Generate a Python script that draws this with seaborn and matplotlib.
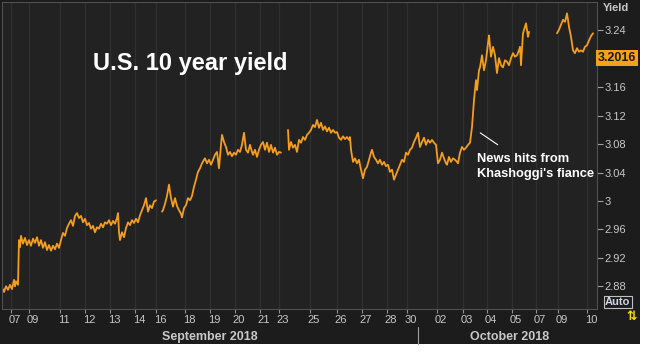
import numpy as np
import pandas as pd
import matplotlib
matplotlib.use("Agg")
import matplotlib.pyplot as plt
import matplotlib.transforms as mtransforms
from matplotlib.patches import Rectangle
import seaborn as sns

# US 10y yield, intraday, x = trading hours since Sep 7 open (weekends squeezed out)
# nan marks a break in the line
hours = [
    0, 2, 4, 6, 8, 10, 12, 13, 14, 16,
    17, 18, 19, 21, 23, 25, 27, 29, 31, 33,
    35, 37, 39, 41, 43, 45, 47, 49, 51, 53,
    55, 57, 59, 61, 63, 65, 67, 69, 71, 73,
    75, 77, 79, 81, 83, 85, 87, 89, 91, 93,
    95, 97, 99, 101, 103, 105, 107, 109, 111, 113,
    115, 116, 117, 118, 120, 122, 124, 126, 128, 130,
    132, 134, 136, 138, 140, 142, 144, 146, 148, 150,
    152, 154, 156,
    160, 161, 163, 165, 167, 169, 171, 173, 175, 177,
    179, 180, 182, 184, 186, 188, 190, 192, 194, 196,
    198, 200, 202, 203, 205, 207, 209, 211, 213, 215,
    217, 219, 220, 222, 224, 226, 228, 230, 232, 234,
    236, 238, 240, 242, 244, 246, 248, 250, 251, 253,
    255, 257, 259, 261, 263, 265, 267, 269, 271, 273,
    275, 277, 279, 282,
    286, 287, 289, 291, 293, 295, 297, 299, 301, 303,
    305, 307, 309, 311, 313, 315, 317, 319, 321, 323,
    325, 327, 329, 331, 333, 335, 337, 339, 341, 343,
    345, 347, 348, 349, 351, 353, 355, 357, 359, 361,
    363, 365, 367, 369, 370, 372, 374, 376, 378, 380,
    382, 384, 386, 388, 390, 392, 394, 396, 398, 400,
    402, 404, 406, 408, 410, 412, 414, 416, 418, 420,
    422, 424, 426, 428, 430, 432, 434, 436, 438, 440,
    442, 444, 445, 447, 449, 451, 453, 455, 456, 458,
    460, 462, 464, 466, 468, 470, 472, 474, 475, 477,
    478, 480, 482, 484, 486, 487, 489, 491, 493, 495,
    497, 499, 501, 503, 505, 507, 509, 511, 513, 515,
    517, 518, 519, 521, 524, 526, 527, 540,
    555, 557, 559, 561, 563, 565, 567, 569, 571, 573,
    575, 577, 579, 581, 583, 585, 587, 589, 591,
]
yields = [
    2.878, 2.872, 2.880, 2.875, 2.882, 2.876, 2.889, 2.880, 2.887, 2.882,
    2.945, 2.935, 2.951, 2.940, 2.948, 2.938, 2.945, 2.937, 2.947, 2.941,
    2.949, 2.937, 2.945, 2.934, 2.942, 2.931, 2.938, 2.930, 2.937, 2.932,
    2.940, 2.934, 2.945, 2.955, 2.951, 2.962, 2.968, 2.973, 2.965, 2.979,
    2.983, 2.976, 2.979, 2.970, 2.975, 2.966, 2.969, 2.961, 2.965, 2.956,
    2.963, 2.961, 2.968, 2.963, 2.970, 2.968, 2.973, 2.966, 2.972, 2.968,
    2.976, 2.983, 2.956, 2.945, 2.956, 2.949, 2.962, 2.970, 2.966, 2.973,
    2.969, 2.975, 2.970, 2.980, 2.987, 2.994, 3.004, 2.985, 2.994, 2.990,
    2.999, 3.001, np.nan,
    2.985, 2.987, 2.996, 3.007, 3.023, 3.004, 2.992, 3.004, 2.993, 2.987,
    2.982, 2.977, 2.990, 2.994, 3.004, 3.001, 3.007, 3.020, 3.030, 3.041,
    3.046, 3.053, 3.058, 3.060, 3.053, 3.058, 3.051, 3.058, 3.065, 3.069,
    3.046, 3.079, 3.093, 3.083, 3.076, 3.065, 3.069, 3.063, 3.068, 3.065,
    3.072, 3.069, 3.079, 3.096, 3.072, 3.068, 3.079, 3.069, 3.065, 3.072,
    3.062, 3.072, 3.079, 3.083, 3.072, 3.082, 3.069, 3.079, 3.068, 3.075,
    3.065, 3.069, 3.068, np.nan,
    3.100, 3.072, 3.083, 3.075, 3.079, 3.069, 3.086, 3.082, 3.090, 3.086,
    3.093, 3.096, 3.100, 3.107, 3.104, 3.114, 3.103, 3.110, 3.100, 3.105,
    3.098, 3.103, 3.096, 3.100, 3.096, 3.097, 3.089, 3.086, 3.091, 3.087,
    3.090, 3.086, 3.090, 3.072, 3.055, 3.060, 3.053, 3.058, 3.044, 3.032,
    3.044, 3.048, 3.058, 3.068, 3.072, 3.062, 3.058, 3.053, 3.058, 3.051,
    3.055, 3.049, 3.051, 3.041, 3.044, 3.030, 3.037, 3.044, 3.051, 3.058,
    3.055, 3.068, 3.065, 3.072, 3.075, 3.083, 3.089, 3.096, 3.076, 3.083,
    3.089, 3.079, 3.086, 3.082, 3.086, 3.082, 3.079, 3.053, 3.058, 3.068,
    3.060, 3.053, 3.051, 3.062, 3.055, 3.060, 3.058, 3.055, 3.053, 3.068,
    3.076, 3.072, 3.075, 3.079, 3.082, 3.104, 3.142, 3.170, 3.156, 3.184,
    3.188, 3.205, 3.184, 3.198, 3.222, 3.233, 3.203, 3.217, 3.205, 3.180,
    3.201, 3.191, 3.188, 3.198, 3.196, 3.191, 3.201, 3.208, 3.203, 3.205,
    3.212, 3.217, 3.191, 3.236, 3.250, 3.231, 3.238, np.nan,
    3.236, 3.241, 3.248, 3.255, 3.252, 3.264, 3.245, 3.231, 3.212, 3.208,
    3.215, 3.210, 3.212, 3.210, 3.217, 3.219, 3.226, 3.232, 3.236,
]

day_ticks = [9, 27, 58, 83, 108, 133, 154, 183, 208, 233, 258, 277,
             308, 335, 360, 385, 405, 435, 461, 485, 510, 534, 556, 585]
day_labels = ['07', '09', '11', '12', '13', '14', '16', '18', '19', '20', '21', '23',
              '25', '26', '27', '28', '30', '02', '03', '04', '05', '07', '09', '10']
month_labels = ['September 2018', 'October 2018']
month_edges = [0, 416, 600]

y_ticks = [2.88, 2.92, 2.96, 3.00, 3.04, 3.08, 3.12, 3.16, 3.24]
y_labels = ['2.88', '2.92', '2.96', '3', '3.04', '3.08', '3.12', '3.16', '3.24']
last_value = 3.2016

# where the news hit (line from the jump to the note)
news_point = (476, 3.098)
news_text_at = (498, 3.077)

df = pd.DataFrame({'hours': hours, 'yield': yields})
df['session'] = df['yield'].isna().cumsum()
df = df.dropna()

sns.set_theme(style="dark")
plt.rcParams['font.family'] = ['Liberation Sans', 'DejaVu Sans']

W, H = 650, 354
fig = plt.figure(figsize=(W / 100, H / 100), dpi=100, facecolor='white')
fig.add_artist(Rectangle((0, 1 - 344 / H), 640 / W, 344 / H, transform=fig.transFigure,
                         facecolor='#1c1c1c', edgecolor='none', zorder=0))
ax = fig.add_axes([2 / W, (H - 309) / H, 595 / W, 307 / H])
ax.set_facecolor('#222222')

sns.lineplot(data=df, x='hours', y='yield', units='session', estimator=None,
             color='#f59e1e', lw=1.3, ax=ax, legend=False)

ax.set_xlim(0, 595)
ax.set_ylim(2.848, 3.280)
ax.set_xlabel('')
ax.set_ylabel('')

# x axis: day ticks
ax.set_xticks(day_ticks)
ax.set_xticklabels(day_labels)
ax.tick_params(axis='x', bottom=True, length=3, width=0.8, color='#909090', pad=1.5,
               labelsize=8, labelcolor='#c8c8c8', direction='out')
shift = mtransforms.ScaledTranslation(4 / 100, 0, fig.dpi_scale_trans)
for lbl in ax.get_xticklabels():
    lbl.set_transform(lbl.get_transform() + shift)
ax.grid(axis='x', color='#303030', lw=1)
ax.grid(axis='y', visible=False)
ax.set_axisbelow(True)

# y axis on the right
ax.yaxis.tick_right()
ax.set_yticks(y_ticks)
ax.set_yticklabels(y_labels)
ax.tick_params(axis='y', right=True, left=False, length=4, width=0.8, color='#a0a0a0',
               pad=1.5, labelsize=8, labelcolor='#c8c8c8', direction='out')

for sp in ax.spines.values():
    sp.set_color('#505050')
    sp.set_linewidth(0.8)

# month row
xb = mtransforms.blended_transform_factory(ax.transData, ax.transAxes)
for i, name in enumerate(month_labels):
    mid = (month_edges[i] + month_edges[i + 1]) / 2
    ax.text(mid, -0.092, name, transform=xb, ha='center', va='center',
            fontsize=9, fontweight='bold', color='#c8c8c8', clip_on=False)
ax.plot([month_edges[1]] * 2, [-0.06, -0.115], transform=xb, color='#a0a0a0',
        lw=0.8, clip_on=False)

# title and note
ax.text(0.153, 0.801, 'U.S. 10 year yield', transform=ax.transAxes, color='white',
        fontsize=17, fontweight='bold', ha='left', va='center')
ax.annotate('', xy=news_point, xytext=news_text_at,
            arrowprops=dict(arrowstyle='-', color='white', lw=0.8))
ax.text(475, 3.0675, "News hits from\nKhashoggi's fiance", color='white',
        fontsize=9.3, fontweight='bold', ha='left', va='top', linespacing=1.3)

# right-side labels
yb = mtransforms.blended_transform_factory(ax.transAxes, ax.transData)
ax.text(1.0 + 1 / 595, last_value, f'{last_value:.4f}', transform=yb, ha='left', va='center',
        fontsize=9, fontweight='bold', color='#1a1a1a', clip_on=False,
        bbox=dict(boxstyle='square,pad=0.15', fc='#f7a11a', ec='none'))
fig.text(603 / W, 1 - 8 / H, 'Yield', fontsize=8, fontweight='bold', color='#c8c8c8',
         ha='left', va='center')
fig.text(605 / W, 1 - 302 / H, 'Auto', fontsize=8, fontweight='bold', color='#d4d4e4',
         ha='left', va='center',
         bbox=dict(boxstyle='square,pad=0.12', fc='#1c1c1c', ec='#c0c0c0', lw=0.8))
fig.text(632 / W, 1 - 316 / H, '\u21c5', fontsize=9, fontweight='bold', color='#ffe000',
         ha='center', va='center', family='DejaVu Sans')

fig.savefig('out.png', dpi=100, facecolor=fig.get_facecolor())
